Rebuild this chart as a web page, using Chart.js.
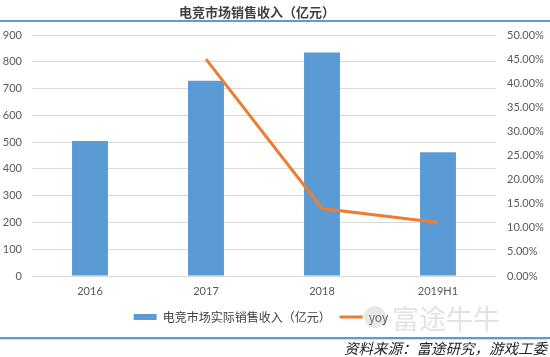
<!DOCTYPE html>
<html>
<head>
<meta charset="utf-8">
<script src="https://cdn.jsdelivr.net/npm/chart.js@4.4.1/dist/chart.umd.min.js"></script>
<style>
  html, body { margin: 0; padding: 0; background: #fff; }
  #wrap { position: relative; width: 550px; height: 357px; overflow: hidden; background: #fff; }
  #c { position: absolute; left: 0; top: 0; }
  .title { position: absolute; left: 0; width: 514px; top: 3px; text-align: center;
           font-family: "Noto Sans CJK SC", sans-serif; font-size: 13px; font-weight: bold; color: #404040; line-height: 18px; }
  .rule-top { position: absolute; left: 0; top: 20px; width: 550px; height: 2px; background: #5b9bd5; }
  .rule-bot { position: absolute; left: 0; top: 337px; width: 550px; height: 2px; background: #5b9bd5; }
  .rule-bot2 { position: absolute; left: 0; top: 339px; width: 550px; height: 1px; background: #cfe0f1; }
  .source { position: absolute; right: 3px; top: 339px; font-family: "Noto Sans CJK SC", sans-serif;
            font-size: 14.5px; font-style: italic; color: #222; line-height: 18px; }
  .wm { position: absolute; left: 392px; top: 300px; font-family: "Noto Sans CJK SC", sans-serif;
        font-size: 27px; color: rgba(190,190,190,0.45); line-height: 36px; letter-spacing: 0px; }
  .wm-logo { position: absolute; left: 364px; top: 306px; width: 22px; height: 22px; border-radius: 50%;
             background: rgba(190,190,190,0.35); }
</style>
</head>
<body>
<div id="wrap">
  <canvas id="c" width="550" height="357"></canvas>
  <div class="title">电竞市场销售收入（亿元）</div>
  <div class="rule-top"></div>
  <div class="wm-logo"></div>
  <div class="wm">富途牛牛</div>
  <div class="rule-bot"></div>
  <div class="rule-bot2"></div>
  <div class="source">资料来源：富途研究，游戏工委</div>
</div>
<script>
const categories = ["2016", "2017", "2018", "2019H1"];
const revenue = [504, 729, 835, 462];
const yoy = [null, 45.0, 14.0, 11.1];
const revenueLabel = "电竞市场实际销售收入（亿元）";
const yoyLabel = "yoy";
const leftTicks = [0, 100, 200, 300, 400, 500, 600, 700, 800, 900];
const rightTicks = [0, 5, 10, 15, 20, 25, 30, 35, 40, 45, 50];

const BLUE = "#5b9bd5";
const ORANGE = "#ed7d31";
const GRID = "#d9d9d9";
const TICK = "#595959";
const tickFont = { family: "Lato, 'Liberation Sans', sans-serif", size: 11 };

const legendShift = {
  id: "legendShift",
  afterLayout(chart) {
    const lg = chart.legend;
    if (lg) { lg.left -= 14; lg.right -= 14; }
  }
};

new Chart(document.getElementById("c"), {
  data: {
    labels: categories,
    datasets: [
      {
        type: "line",
        label: yoyLabel,
        data: yoy,
        yAxisID: "y2",
        borderColor: ORANGE,
        backgroundColor: ORANGE,
        borderWidth: 3,
        pointRadius: 0,
        tension: 0,
        order: 0
      },
      {
        type: "bar",
        label: revenueLabel,
        data: revenue,
        yAxisID: "y",
        backgroundColor: BLUE,
        borderWidth: 0,
        barPercentage: 0.31,
        categoryPercentage: 1.0,
        order: 1
      }
    ]
  },
  options: {
    responsive: false,
    animation: false,
    layout: { padding: { top: 35, left: 0, right: 0, bottom: 24 } },
    plugins: {
      title: { display: false },
      tooltip: { enabled: false },
      legend: {
        position: "bottom",
        labels: {
          font: { family: "'Noto Sans CJK SC', sans-serif", size: 12 },
          color: "#404040",
          usePointStyle: true,
          pointStyleWidth: 23,
          boxHeight: 6,
          padding: 9,
          generateLabels(chart) {
            return [
              { text: revenueLabel, datasetIndex: 1, fillStyle: BLUE, strokeStyle: BLUE, lineWidth: 0, pointStyle: "rect", fontColor: "#404040" },
              { text: yoyLabel, datasetIndex: 0, fillStyle: ORANGE, strokeStyle: ORANGE, lineWidth: 3, pointStyle: "line", fontColor: "#404040" }
            ];
          }
        }
      }
    },
    scales: {
      x: {
        grid: { display: false, drawTicks: false },
        border: { display: false },
        ticks: { color: TICK, font: tickFont, padding: 9 },
        afterFit(s) { s.height = 26; }
      },
      y: {
        position: "left",
        min: 0, max: 900,
        afterBuildTicks(s) { s.ticks = leftTicks.map(v => ({ value: v })); },
        grid: { color: GRID, lineWidth: 1, drawTicks: false },
        border: { display: false },
        ticks: { color: TICK, font: tickFont, padding: 10 },
        afterFit(s) { s.width = 32; }
      },
      y2: {
        position: "right",
        min: 0, max: 50,
        afterBuildTicks(s) { s.ticks = rightTicks.map(v => ({ value: v })); },
        grid: { display: false, drawTicks: false },
        border: { display: false },
        ticks: { color: TICK, font: tickFont, padding: 11, callback: v => v.toFixed(2) + "%" },
        afterFit(s) { s.width = 54; }
      }
    }
  },
  plugins: [legendShift]
});
</script>
</body>
</html>
